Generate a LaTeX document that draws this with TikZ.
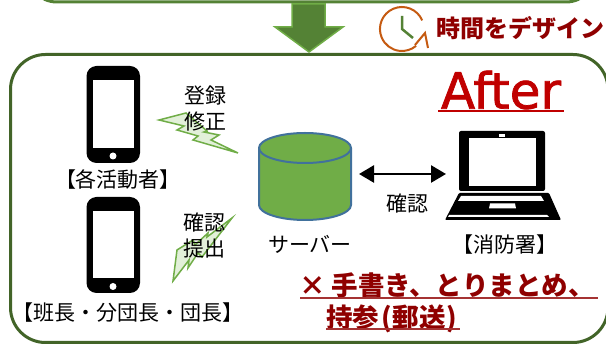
\documentclass[tikz,border=0pt]{standalone}
\usepackage{fontspec}
\usepackage{xcolor}
\usetikzlibrary{arrows.meta}
\setmainfont{Noto Sans CJK JP}
\newfontfamily\latinfont[FakeBold=1.5]{DejaVu Sans}
\definecolor{framegreen}{HTML}{426428}
\definecolor{topgreen}{HTML}{548235}
\definecolor{boltgreen}{HTML}{70AD47}
\definecolor{boltfill}{HTML}{E2F0D9}
\definecolor{serverblue}{HTML}{41719C}
\definecolor{clockorange}{HTML}{C55A11}
\definecolor{titlered}{HTML}{C00000}
\definecolor{notered}{HTML}{8F0000}
\newcommand{\lbrk}{\makebox[.5em][r]{【}}
\newcommand{\rbrk}{\makebox[.5em][l]{】}}
\tikzset{
  label21/.style={inner sep=0pt, font=\fontsize{21}{21}\selectfont},
  notetext/.style={inner sep=0pt, anchor=west, text=notered, font=\fontsize{26.5}{26.5}\selectfont\bfseries},
  bolt/.style={draw=boltgreen, fill=boltfill, line width=1.5pt, line join=miter},
  noteline/.style={draw=notered!80!white, line width=1.5pt}
}

\begin{document}
\begin{tikzpicture}[x=1pt, y=-1pt]
  \useasboundingbox (0,0) rectangle (606,344);
  \clip (0,0) rectangle (606,344);

  % Frames
  \draw[topgreen, line width=3pt, rounded corners=30pt] (27,-40) rectangle (596,2);
  \draw[framegreen, line width=3pt, rounded corners=35pt] (10.5,54.5) rectangle (608,342.5);

  % Block arrow between the frames
  \draw[boltgreen, fill=topgreen, line width=1.5pt] (292,4) -- (325,4) -- (325,27) -- (343,27) -- (309,52) -- (275,27) -- (292,27) -- cycle;

  % Clock
  \draw[clockorange, line width=2pt] (422.2,20.4) arc[start angle=23, end angle=310, radius=22pt];
  \draw[clockorange, line width=2pt] (415,45) -- (425,33) -- (428,48);
  \draw[topgreen, line width=2.5pt] (402,16) -- (402,29) -- (413,38);
  \node[inner sep=0pt, anchor=west, text=notered, font=\fontsize{24}{24}\selectfont\bfseries] (slogan) at (436,28) {時間をデザイン};

  % After
  \node[inner sep=0pt, text=titlered, font=\fontsize{50}{50}\selectfont\latinfont] (after) at (501,90) {After};
  \draw[titlered, line width=2pt] (438,111) -- (564,111);

  % Phones
  \fill[black, rounded corners=10pt] (86.5,66) rectangle (140,163);
  \fill[white] (92.5,80) rectangle (134,148);
  \fill[white] (113,156) circle (3.5pt);
  \fill[black, rounded corners=10pt] (86.5,197) rectangle (140,293);
  \fill[white] (92.5,211) rectangle (134,278);
  \fill[white] (113,286.5) circle (3.5pt);

  % Bolts
  \draw[bolt] (159,120) -- (186,113) -- (207,131) -- (204,132) -- (219,135) -- (211,140) -- (238,153) -- (193,140) -- (198,136) -- (177,130) -- (184,126) -- cycle;
  \draw[bolt] (173,281) -- (177,250) -- (193,240) -- (195,245) -- (208,233) -- (207,237) -- (232,218) -- (202,257) -- (198,253) -- (188,268) -- (189,260) -- cycle;

  % Server
  \draw[serverblue, fill=boltgreen, line width=2pt] (259,148) -- (259,205) arc[start angle=180, end angle=360, x radius=46pt, y radius=15pt] -- (351,148) arc[start angle=0, end angle=180, x radius=46pt, y radius=15pt] -- cycle;
  \draw[serverblue, line width=2pt] (259,148) arc[start angle=180, end angle=360, x radius=46pt, y radius=15pt];

  % Laptop
  \fill[black, rounded corners=2pt] (459,131) rectangle (545,191);
  \fill[white] (469,138) rectangle (536,186);
  \fill[white] (499,134) rectangle (505,137);
  \fill[white] (477,191.5) rectangle (527,193);
  \fill[black, rounded corners=1pt] (459,193) -- (549,193) -- (561,220) -- (445,220) -- cycle;
  \fill[white] (461,196) -- (541,196) -- (544,201) -- (458,201) -- cycle;
  \fill[white] (490,203.5) -- (515,203.5) -- (516,208.5) -- (489,208.5) -- cycle;
  \fill[white] (449,215) -- (547,215) -- (549,217) -- (448,217) -- cycle;

  % Arrow between server and laptop
  \coordinate (serverport) at (359,174);
  \coordinate (laptopport) at (446,174);
  \draw[{Triangle[length=15pt,width=17pt]}-{Triangle[length=15pt,width=17pt]}, line width=2.5pt] (serverport) -- (laptopport);

  % Labels
  \node[label21] (toroku) at (205,96) {登録};
  \node[label21] (shusei) at (205,122) {修正};
  \node[label21] (kakunin) at (204,223) {確認};
  \node[label21] (teishutsu) at (204,249) {提出};
  \node[label21] (kakunintwo) at (407,204) {確認};
  \node[label21] (servername) at (310,244) {サーバー};
  \node[label21] (member) at (118,180) {\lbrk 各活動者\rbrk};
  \node[label21] (leader) at (128,313) {\lbrk 班長・分団長・団長\rbrk};
  \node[label21] (fire) at (505,245) {\lbrk 消防署\rbrk};

  % Note
  \node[notetext] (noteone) at (299,285) {× 手書き、とりまとめ、};
  \node[notetext] (notetwo) at (326,319) {持参\kern2pt(\kern1pt郵送\kern1pt)};
  \draw[noteline] (300,298) -- (598,298);
  \draw[noteline] (326,329) -- (460,329);
\end{tikzpicture}
\end{document}
